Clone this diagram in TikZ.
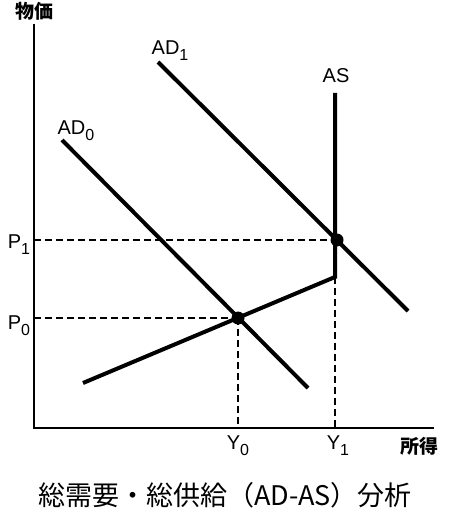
\documentclass[tikz,border=0pt]{standalone}
\usepackage{fontspec}
\setmainfont{Liberation Sans}
\newfontfamily\cjk{Noto Sans CJK JP}
\newcommand{\sbs}[1]{\raisebox{-6pt}{\fontsize{16}{16}\selectfont #1}}
\tikzset{
  axis/.style={line width=2pt},
  curve/.style={line width=4pt},
  guide/.style={line width=2pt, dash pattern=on 7pt off 4pt},
  lbl/.style={font=\fontsize{20}{20}\selectfont, inner sep=0pt},
  dot/.style={circle, fill=black, inner sep=0pt, minimum size=13pt},
}
\begin{document}
\begin{tikzpicture}[x=1pt,y=-1pt]
\useasboundingbox (0,0) rectangle (450,521);
% axes
\coordinate (O) at (34,428);
\coordinate (ytop) at (34,24);
\coordinate (xend) at (434,428);
\draw[axis] (ytop) -- (O) -- (xend);
\node[inner sep=0pt, font=\cjk\bfseries\fontsize{19}{19}\selectfont] (pl) at (35,11) {物価};
\node[inner sep=0pt, font=\cjk\bfseries\fontsize{19}{19}\selectfont] (yl) at (419,446) {所得};
% equilibrium points
\coordinate (E0) at (238,318);
\coordinate (E1) at (337,240);
\coordinate (P0a) at (34,318);
\coordinate (P1a) at (34,240);
\coordinate (Y0a) at (238,428);
\coordinate (Y1a) at (335,428);
\coordinate (K) at (335,277);
% guides
\draw[guide] (P1a) -- (E1);
\draw[guide] (P0a) -- (E0);
\draw[guide] (E0) -- (Y0a);
\draw[guide] (K) -- (Y1a);
% AD curves
\coordinate (ad0s) at (62,140);
\coordinate (ad0e) at (308,388);
\coordinate (ad1s) at (158,62);
\coordinate (ad1e) at (408,311);
\draw[curve] (ad0s) -- (ad0e);
\draw[curve] (ad1s) -- (ad1e);
% AS curve
\coordinate (ass) at (83,383);
\coordinate (ast) at (335,93);
\draw[curve, line join=miter] (ass) -- (K) -- (ast);
% dots
\node[dot] (d0) at (E0) {};
\node[dot] (d1) at (E1) {};
% labels
\node[lbl] (lad0) at (76,131) {AD\sbs{0}};
\node[lbl] (lad1) at (170,51) {AD\sbs{1}};
\node[lbl] (las) at (336,76) {AS};
\node[lbl] (lp1) at (19,245) {P\sbs{1}};
\node[lbl] (lp0) at (19,326) {P\sbs{0}};
\node[lbl] (ly0) at (238,446) {Y\sbs{0}};
\node[lbl] (ly1) at (338,446) {Y\sbs{1}};
% caption
\node[inner sep=0pt, font=\cjk\fontsize{27}{27}\selectfont] (cap) at (225,495) {総需要・総供給（AD-AS）分析};
\end{tikzpicture}
\end{document}
